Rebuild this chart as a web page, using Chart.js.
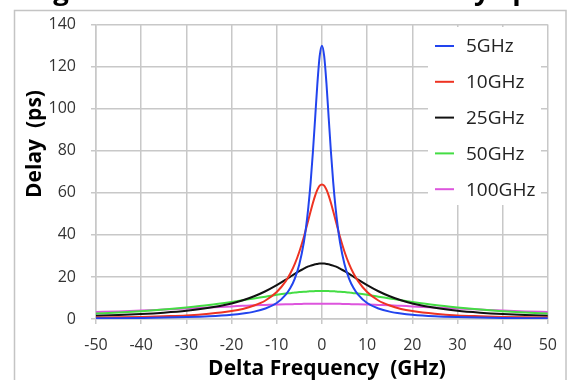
<!DOCTYPE html>
<html><head><meta charset="utf-8">
<script src="https://cdn.jsdelivr.net/npm/chart.js@4"></script>
<style>html,body{margin:0;padding:0;background:#fff;}#wrap{width:569px;height:380px;position:relative}</style>
</head><body><div id="wrap"><canvas id="c" width="569" height="380"></canvas></div>
<script>
// Delta frequency (GHz)
const freqGHz = [-50,-45,-40,-35,-30,-25,-20,-17.5,-15,-12.5,-10,-8,-7,-6,-5,-4,-3.5,-3,-2.5,-2,-1.5,-1,-0.5,0,
  0.5,1,1.5,2,2.5,3,3.5,4,5,6,7,8,10,12.5,15,17.5,20,25,30,35,40,45,50];
// Delay (ps)
const delay5GHz = [0.32,0.40,0.51,0.66,0.90,1.29,2.0,2.6,3.5,5.0,7.6,11.6,14.7,19.2,26.0,36.5,43.9,53.3,65.0,79.3,95.6,112.1,125.0,130,
  125.0,112.1,95.6,79.3,65.0,53.3,43.9,36.5,26.0,19.2,14.7,11.6,7.6,5.0,3.5,2.6,2.0,1.29,0.90,0.66,0.51,0.40,0.32];
const delay10GHz = [0.7,0.8,0.98,1.3,1.7,2.5,3.8,4.8,6.4,8.8,12.8,18.0,21.6,26.2,32.0,39.0,43.0,47.1,51.2,55.2,58.7,61.5,63.4,64,
  63.4,61.5,58.7,55.2,51.2,47.1,43.0,39.0,32.0,26.2,21.6,18.0,12.8,8.8,6.4,4.8,3.8,2.5,1.7,1.3,0.98,0.8,0.7];
const delay25GHz = [1.55,1.89,2.35,3.0,3.9,5.3,7.4,8.9,10.8,13.2,16.1,18.7,20.1,21.5,22.8,23.9,24.5,25.0,25.4,25.7,26.0,26.2,26.4,26.4,
  26.4,26.2,26.0,25.7,25.4,25.0,24.5,23.9,22.8,21.5,20.1,18.7,16.1,13.2,10.8,8.9,7.4,5.3,3.9,3.0,2.35,1.89,1.55];
const delay50GHz = [2.6,3.1,3.7,4.5,5.5,6.65,8.1,8.9,9.8,10.6,11.5,12.1,12.3,12.6,12.8,13.0,13.0,13.1,13.2,13.2,13.3,13.3,13.3,13.3,
  13.3,13.3,13.3,13.2,13.2,13.1,13.0,13.0,12.8,12.6,12.3,12.1,11.5,10.6,9.8,8.9,8.1,6.65,5.5,4.5,3.7,3.1,2.6];
const delay100GHz = [3.3,3.6,4.0,4.5,5.0,5.5,6.0,6.25,6.5,6.7,6.9,7.0,7.0,7.1,7.1,7.2,7.2,7.2,7.2,7.2,7.2,7.2,7.2,7.2,
  7.2,7.2,7.2,7.2,7.2,7.2,7.2,7.2,7.1,7.1,7.0,7.0,6.9,6.7,6.5,6.25,6.0,5.5,5.0,4.5,4.0,3.6,3.3];
const seriesLabels = ['5GHz','10GHz','25GHz','50GHz','100GHz'];
const seriesColors = ['#2244ee','#ee3322','#111111','#44dd44','#dd55dd'];
const xTickMin = -50, xTickMax = 50, xTickStep = 10;
const yTickMin = 0, yTickMax = 140, yTickStep = 20;
const xTitle = 'Delta Frequency  (GHz)';
const yTitle = 'Delay  (ps)';
// chart title, cut off by the top edge of the picture (only descenders visible)
const chartTitle = 'Single Lorentzian Resonance Delay Spectra';

const seriesValues = [delay5GHz, delay10GHz, delay25GHz, delay50GHz, delay100GHz];
const datasets = seriesValues.map((vals, i) => ({
  label: seriesLabels[i],
  data: freqGHz.map((f, j) => ({x: f, y: vals[j]})),
  borderColor: seriesColors[i],
  backgroundColor: seriesColors[i],
  borderWidth: 2,
  pointRadius: 0,
  cubicInterpolationMode: 'monotone',
  fill: false
}));

const FONT = '"Open Sans", "Liberation Sans", sans-serif';

const decor = {
  id: 'decor',
  beforeDraw(chart) {
    const ctx = chart.ctx;
    ctx.save();
    ctx.fillStyle = '#fff';
    ctx.fillRect(0, 0, chart.width, chart.height);
    ctx.strokeStyle = '#c4c4c4';
    ctx.lineWidth = 1.5;
    ctx.strokeRect(14.5, 10.5, 551.5, 380);
    ctx.restore();
  },
  afterDatasetsDraw(chart) {
    const ctx = chart.ctx;
    ctx.save();
    ctx.fillStyle = '#fff';
    ctx.fillRect(428, 27, 113, 178);
    ctx.font = '19px ' + FONT;
    ctx.textBaseline = 'middle';
    ctx.textAlign = 'left';
    chart.data.datasets.forEach((ds, i) => {
      const y = 46 + i * 35.8;
      ctx.strokeStyle = ds.borderColor;
      ctx.lineWidth = 2;
      ctx.beginPath(); ctx.moveTo(435, y); ctx.lineTo(454, y); ctx.stroke();
      ctx.fillStyle = '#222';
      ctx.fillText(ds.label, 466, y + 1);
    });
    ctx.restore();
  },
  afterDraw(chart) {
    const ctx = chart.ctx;
    ctx.save();
    ctx.fillStyle = '#000';
    ctx.font = 'bold 21px ' + FONT;
    ctx.textAlign = 'center';
    ctx.textBaseline = 'middle';
    ctx.fillText(xTitle, 327, 369);
    ctx.save();
    ctx.translate(35, 144);
    ctx.rotate(-Math.PI / 2);
    ctx.fillText(yTitle, 0, 0);
    ctx.restore();
    // cut-off chart title: size it so the visible descenders fall where they are in the reference
    ctx.font = 'bold 24px ' + FONT;
    const gC = ctx.measureText('Sin').width + ctx.measureText('g').width / 2;
    const yC = ctx.measureText('Single Lorentzian Resonance Dela').width + ctx.measureText('y').width / 2;
    const k = 421 / (yC - gC);
    const size = 24 * k;
    ctx.font = 'bold ' + size.toFixed(2) + 'px ' + FONT;
    ctx.textAlign = 'left';
    ctx.textBaseline = 'alphabetic';
    ctx.fillText(chartTitle, 61 - gC * k, -0.5);
    ctx.restore();
  }
};

new Chart(document.getElementById('c'), {
  type: 'line',
  data: { datasets },
  options: {
    responsive: false,
    devicePixelRatio: 1,
    animation: false,
    layout: { padding: { top: 22, right: 20, left: 0, bottom: 0 } },
    plugins: { legend: { display: false }, tooltip: { enabled: false }, title: { display: false } },
    scales: {
      x: {
        type: 'linear', min: xTickMin, max: xTickMax,
        ticks: { stepSize: xTickStep, color: '#333', font: { family: FONT, size: 16 }, padding: 12, maxRotation: 0 },
        grid: { color: '#c8c8c8', lineWidth: 1.5, tickLength: 5 },
        border: { color: '#c8c8c8', width: 1.5 },
        afterFit(s) { s.height = 61; }
      },
      y: {
        type: 'linear', min: yTickMin, max: yTickMax,
        ticks: { stepSize: yTickStep, color: '#333', font: { family: FONT, size: 16 }, padding: 15 },
        grid: { color: '#c8c8c8', lineWidth: 1.5, tickLength: 5 },
        border: { color: '#c8c8c8', width: 1.5 },
        afterFit(s) { s.width = 96; }
      }
    }
  },
  plugins: [decor]
});
</script></body></html>
